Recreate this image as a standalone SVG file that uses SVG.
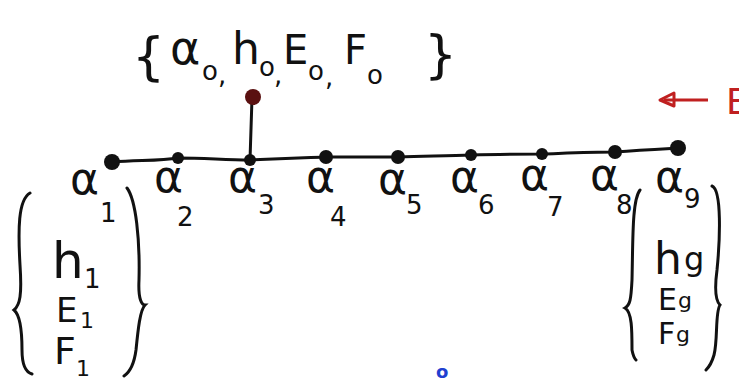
<svg xmlns="http://www.w3.org/2000/svg" width="739" height="383" viewBox="0 0 739 383">
<style>
.t{font-family:"DejaVu Sans","Noto Sans",sans-serif;fill:#111}
.a{font-size:44px}
.s{font-size:26px}
.b{fill:none;stroke:#111;stroke-width:3;stroke-linecap:round}
.n{fill:#111}
</style>
<rect width="739" height="383" fill="#fff"/>
<g id="connectors">
<path d="M112,162 C140,160 160,161 178,158 C205,158 225,160 250,160 C290,158 300,158 326,157 C360,157 380,157 398,157 C430,156 450,156 471,155 C500,154 520,154 542,154 C570,153 590,152 615,152 C640,150 660,149 678,148" class="b"/>
<path d="M250,160 L252,98" class="b"/>
</g>
<g id="n0"><circle cx="253" cy="97" r="8" fill="#5a1010"/>
<text class="t" x="132" y="74" font-size="52">{</text>
<text class="t" x="170" y="64" font-size="46">α</text><text class="t s" x="202" y="80">o</text><text class="t s" x="218" y="84">,</text>
<text class="t" x="232" y="64" font-size="44">h</text><text class="t s" x="259" y="76">o</text><text class="t s" x="274" y="84">,</text>
<text class="t" x="283" y="64" font-size="40">E</text><text class="t s" x="308" y="80">o</text><text class="t s" x="325" y="86">,</text>
<text class="t" x="344" y="64" font-size="40">F</text><text class="t s" x="367" y="84">o</text>
<text class="t" x="424" y="72" font-size="52">}</text>
</g>
<g id="n1"><circle cx="112" cy="162" r="8" class="n"/><text class="t a" x="70" y="194">α</text><text class="t s" x="100" y="222">1</text></g>
<g id="n2"><circle cx="178" cy="158" r="6" class="n"/><text class="t a" x="154" y="192">α</text><text class="t s" x="177" y="226">2</text></g>
<g id="n3"><circle cx="250" cy="160" r="6" class="n"/><text class="t a" x="228" y="192">α</text><text class="t s" x="258" y="214">3</text></g>
<g id="n4"><circle cx="326" cy="157" r="7" class="n"/><text class="t a" x="306" y="192">α</text><text class="t s" x="330" y="226">4</text></g>
<g id="n5"><circle cx="398" cy="157" r="7" class="n"/><text class="t a" x="378" y="194">α</text><text class="t s" x="406" y="214">5</text></g>
<g id="n6"><circle cx="471" cy="155" r="6" class="n"/><text class="t a" x="450" y="192">α</text><text class="t s" x="478" y="214">6</text></g>
<g id="n7"><circle cx="542" cy="154" r="6" class="n"/><text class="t a" x="520" y="190">α</text><text class="t s" x="547" y="216">7</text></g>
<g id="n8"><circle cx="615" cy="152" r="7" class="n"/><text class="t a" x="590" y="190">α</text><text class="t s" x="616" y="214">8</text></g>
<g id="n9"><circle cx="678" cy="148" r="8" class="n"/><text class="t a" x="655" y="192">α</text><text class="t s" x="684" y="208">9</text></g>
<g id="left">
<path d="M30,193 C18,200 18,230 20,265 C22,295 20,305 14,310 C20,315 22,330 22,350 C22,365 25,372 32,374" class="b"/>
<path d="M127,188 C136,200 140,240 139,280 C138,300 142,305 145,305 C140,310 138,330 136,350 C134,365 130,372 124,376" class="b"/>
<text class="t" x="52" y="278" font-size="50">h</text><text class="t s" x="84" y="288">1</text>
<text class="t" x="56" y="322" font-size="34">E</text><text class="t" x="80" y="328" font-size="22">1</text>
<text class="t" x="54" y="364" font-size="38">F</text><text class="t" x="76" y="376" font-size="22">1</text>
</g>
<g id="right">
<path d="M640,190 C632,200 633,240 632,280 C631,300 630,305 625,308 C632,312 632,330 632,350 C633,355 634,358 636,360" class="b"/>
<path d="M712,186 C722,190 720,240 717,270 C715,285 715,300 720,305 C715,312 718,340 714,355 C712,362 710,366 706,370" class="b"/>
<text class="t" x="654" y="274" font-size="44">h</text><text class="t" x="684" y="270" font-size="32">g</text>
<text class="t" x="658" y="310" font-size="30">E</text><text class="t" x="678" y="308" font-size="22">g</text>
<text class="t" x="658" y="344" font-size="30">F</text><text class="t" x="676" y="342" font-size="22">g</text>
</g>
<g id="red">
<path d="M708,100 L664,100" fill="none" stroke="#c02020" stroke-width="3"/>
<path d="M674,93 L660,100 L674,106 Z" fill="none" stroke="#c02020" stroke-width="3" stroke-linejoin="round"/>
<text x="726" y="114" font-family="DejaVu Sans,sans-serif" font-size="36" fill="#c02020">E</text>
</g>
<text x="436" y="378" font-family="DejaVu Sans,sans-serif" font-size="18" font-weight="bold" fill="#2040d0">o</text>
</svg>
